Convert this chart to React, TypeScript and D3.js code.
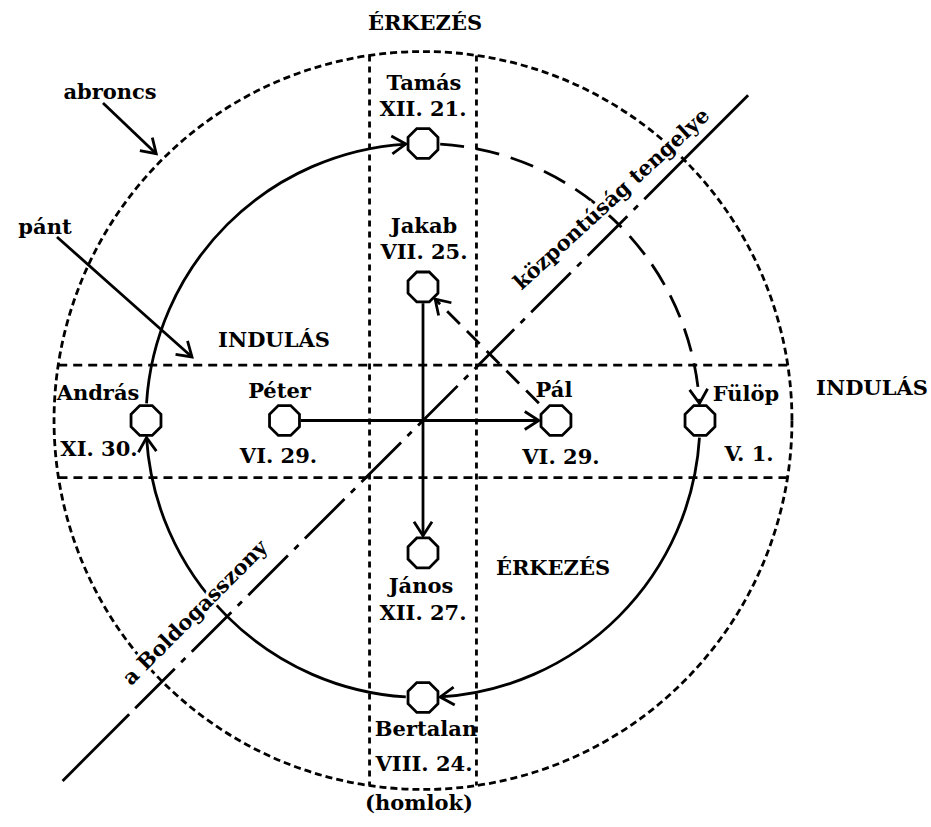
import React, { useEffect, useRef } from 'react';
import * as d3 from 'd3';

// apostles on the wheel: angle clockwise from the top, ring as a share of the band (pánt) radius
const apostleNames = ['Tamás', 'Fülöp', 'Bertalan', 'András', 'Jakab', 'Pál', 'János', 'Péter'];
const apostleDates = ['XII. 21.', 'V. 1.', 'VIII. 24.', 'XI. 30.', 'VII. 25.', 'VI. 29.', 'XII. 27.', 'VI. 29.'];
const apostleAngles = [0, 90, 180, 270, 0, 90, 180, 270];
const apostleRings = [1, 1, 1, 1, 0.482, 0.48, 0.478, 0.5];

// movement along the band
const wheelFrom = ['András', 'Tamás', 'Fülöp', 'Bertalan'];
const wheelTo = ['Tamás', 'Fülöp', 'Bertalan', 'András'];
const wheelDashed = [false, true, false, false];

// movement across the centre
const crossFrom = ['Péter', 'Jakab', 'Pál'];
const crossTo = ['Pál', 'János', 'Jakab'];
const crossDashed = [false, false, true];

// rings of the outer hoop (abroncs) and the two bands
const hoopRing = 1.332;
const verticalBand = [-0.193, 0.193];
const horizontalBand = [-0.2, 0.206];

// the axis of centrality, running at 45 degrees
const axisAngle = 45;
const axisLabels = ['központúság tengelye', 'a Boldogasszony'];
const directionWords = ['ÉRKEZÉS', 'INDULÁS', 'INDULÁS', 'ÉRKEZÉS', '(homlok)'];
const partNames = ['abroncs', 'pánt'];

const W = 931;
const H = 827;
const cx = 423;
const cy = 420.5;
const R = 277;
const nodeR = 16.2;
const SW = 2.8;
const FONT = '"DejaVu Serif", serif';

// label offsets from each node: [name dx, name dy, date dx, date dy]
const labelOffsets: Record<string, number[]> = {
  Tamás: [1, -54, 0, -28],
  Jakab: [1, -54, 1, -28],
  János: [-2, 40, 0, 67],
  Bertalan: [3, 38, 1, 73],
  András: [-48, -21, -47, 35],
  Péter: [-5, -23, -6, 42],
  Pál: [-2, -24, 5, 43],
  Fülöp: [46, -20, 49, 40],
};

const App: React.FC = () => {
  const svgRef = useRef<SVGSVGElement>(null);

  useEffect(() => {
    if (!svgRef.current) return;
    const svg = d3.select(svgRef.current);
    svg.selectAll('*').remove();

    const rScale = d3.scaleLinear().domain([0, 1]).range([0, R]);
    const xScale = d3.scaleLinear().domain([-1, 1]).range([cx - R, cx + R]);
    const yScale = d3.scaleLinear().domain([-1, 1]).range([cy - R, cy + R]);
    const toRad = (deg: number) => ((deg - 90) * Math.PI) / 180;
    const polar = (deg: number, ring: number): [number, number] => [
      cx + rScale(ring) * Math.cos(toRad(deg)),
      cy + rScale(ring) * Math.sin(toRad(deg)),
    ];

    const nodes = apostleNames.map((name, i) => {
      const [x, y] = polar(apostleAngles[i], apostleRings[i]);
      return { name, date: apostleDates[i], angle: apostleAngles[i], x, y };
    });
    const byName = new Map(nodes.map((n) => [n.name, n]));

    svg.append('rect').attr('width', W).attr('height', H).attr('fill', '#fff');

    const defs = svg.append('defs');
    defs
      .append('marker')
      .attr('id', 'arrow')
      .attr('markerUnits', 'userSpaceOnUse')
      .attr('markerWidth', 30)
      .attr('markerHeight', 30)
      .attr('refX', 0)
      .attr('refY', 0)
      .attr('orient', 'auto')
      .attr('overflow', 'visible')
      .append('path')
      .attr('d', 'M-14,-9L0,0L-14,9')
      .attr('fill', 'none')
      .attr('stroke', '#000')
      .attr('stroke-width', SW);

    const g = svg.append('g').attr('fill', 'none').attr('stroke', '#000');

    // outer hoop
    g.append('circle')
      .attr('cx', cx)
      .attr('cy', cy)
      .attr('r', rScale(hoopRing))
      .attr('stroke-width', SW)
      .attr('stroke-dasharray', '7,4');

    // bands, clipped to the hoop
    const hoopR = rScale(hoopRing);
    verticalBand.forEach((u) => {
      const x = xScale(u);
      const h = Math.sqrt(hoopR * hoopR - (x - cx) ** 2);
      g.append('line')
        .attr('x1', x).attr('x2', x)
        .attr('y1', cy - h).attr('y2', cy + h)
        .attr('stroke-width', SW)
        .attr('stroke-dasharray', '6,5');
    });
    horizontalBand.forEach((v) => {
      const y = yScale(v);
      const w = Math.sqrt(hoopR * hoopR - (y - cy) ** 2);
      g.append('line')
        .attr('x1', cx - w).attr('x2', cx + w)
        .attr('y1', y).attr('y2', y)
        .attr('stroke-width', SW)
        .attr('stroke-dasharray', '9,6');
    });

    // axis of centrality: solid outside, dash-dot inside
    const axisTop = polar(axisAngle, 1.66);
    const axisTopIn = polar(axisAngle, hoopRing);
    const axisBottomIn = polar(axisAngle + 180, 1.5);
    const axisBottom = polar(axisAngle + 180, 1.84);
    const seg = (a: [number, number], b: [number, number], dash?: string) =>
      g.append('line')
        .attr('x1', a[0]).attr('y1', a[1])
        .attr('x2', b[0]).attr('y2', b[1])
        .attr('stroke-width', SW)
        .attr('stroke-dasharray', dash ?? null);
    seg(axisTop, axisTopIn);
    seg(axisTopIn, axisBottomIn, '56,9,6,9');
    seg(axisBottomIn, axisBottom);

    // arcs along the band
    const gap = ((nodeR + 1) / R) * (180 / Math.PI);
    wheelFrom.forEach((from, i) => {
      const a = byName.get(from)!;
      const b = byName.get(wheelTo[i])!;
      let end = b.angle;
      if (end <= a.angle) end += 360;
      const p = d3.path();
      p.arc(cx, cy, R, toRad(a.angle + gap), toRad(end - gap), false);
      g.append('path')
        .attr('d', p.toString())
        .attr('stroke-width', SW)
        .attr('stroke-dasharray', wheelDashed[i] ? '24,12' : null)
        .attr('marker-end', 'url(#arrow)');
    });

    // links across the centre
    crossFrom.forEach((from, i) => {
      const a = byName.get(from)!;
      const b = byName.get(crossTo[i])!;
      const dx = b.x - a.x;
      const dy = b.y - a.y;
      const len = Math.hypot(dx, dy);
      const ux = dx / len;
      const uy = dy / len;
      const startGap = crossDashed[i] ? nodeR + 8 : nodeR;
      g.append('line')
        .attr('x1', a.x + ux * startGap).attr('y1', a.y + uy * startGap)
        .attr('x2', b.x - ux * (nodeR + 1)).attr('y2', b.y - uy * (nodeR + 1))
        .attr('stroke-width', SW)
        .attr('stroke-dasharray', crossDashed[i] ? '18,10' : null)
        .attr('marker-end', 'url(#arrow)');
    });

    // pointer arrows for the parts
    const pointer = (x1: number, y1: number, x2: number, y2: number) =>
      g.append('line')
        .attr('x1', x1).attr('y1', y1)
        .attr('x2', x2).attr('y2', y2)
        .attr('stroke-width', SW)
        .attr('marker-end', 'url(#arrow)');
    const hoopTip = polar(315, hoopRing + 0.03);
    pointer(103, 103, hoopTip[0], hoopTip[1]);
    pointer(57, 237, 192, 357);

    // octagon nodes
    const octagon = d3.range(8).map((k) => {
      const a = ((22.5 + 45 * k) * Math.PI) / 180;
      return [nodeR * Math.cos(a), nodeR * Math.sin(a)] as [number, number];
    });
    svg.append('g')
      .selectAll('polygon')
      .data(nodes)
      .join('polygon')
      .attr('points', (d) => octagon.map(([px, py]) => `${d.x + px},${d.y + py}`).join(' '))
      .attr('fill', '#fff')
      .attr('stroke', '#000')
      .attr('stroke-width', SW);

    // text
    const t = svg.append('g')
      .attr('font-family', FONT)
      .attr('font-weight', 'bold')
      .attr('font-size', 21)
      .attr('fill', '#000')
      .attr('text-anchor', 'middle');

    nodes.forEach((n) => {
      const o = labelOffsets[n.name];
      t.append('text').attr('x', n.x + o[0]).attr('y', n.y + o[1]).text(n.name);
      t.append('text').attr('x', n.x + o[2]).attr('y', n.y + o[3]).text(n.date);
    });

    const wordPos = [
      [425, 30],
      [274, 347],
      [872, 395],
      [553, 575],
      [419, 810],
    ];
    directionWords.forEach((w, i) => {
      t.append('text').attr('x', wordPos[i][0]).attr('y', wordPos[i][1]).text(w);
    });

    const partPos = [
      [110, 99],
      [45, 234],
    ];
    partNames.forEach((w, i) => {
      t.append('text').attr('x', partPos[i][0]).attr('y', partPos[i][1]).text(w);
    });

    // labels along the axis, with a white halo that breaks the lines behind
    const axisLabelPos = [
      { along: 290, off: 24, rot: -42.5, dirAngle: axisAngle },
      { along: 297, off: 26, rot: -45, dirAngle: axisAngle + 180 },
    ];
    axisLabels.forEach((w, i) => {
      const p = axisLabelPos[i];
      const [ax, ay] = polar(p.dirAngle, p.along / R);
      // perpendicular, towards upper left
      const px = ax - p.off * Math.SQRT1_2;
      const py = ay - p.off * Math.SQRT1_2;
      t.append('text')
        .attr('transform', `translate(${px},${py}) rotate(${p.rot})`)
        .attr('dominant-baseline', 'central')
        .attr('stroke', '#fff')
        .attr('stroke-width', 6)
        .attr('paint-order', 'stroke')
        .text(w);
    });
  }, []);

  return (
    <svg
      ref={svgRef}
      width={W}
      height={H}
      style={{ position: 'absolute', left: 0, top: 0, background: '#fff' }}
    />
  );
};

export default App;
